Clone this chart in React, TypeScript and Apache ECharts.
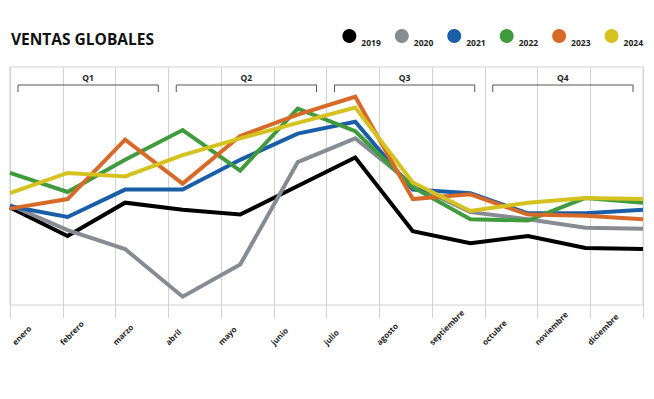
import React, { useEffect, useRef } from "react";
import * as echarts from "echarts";

const MONTHS = ["enero", "febrero", "marzo", "abril", "mayo", "junio", "julio", "agosto", "septiembre", "octubre", "noviembre", "diciembre"];
const QUARTERS = ["Q1", "Q2", "Q3", "Q4"];
const YEARS = ["2019", "2020", "2021", "2022", "2023", "2024"];

const V2019 = [41, 29, 43, 40, 38, 50, 62, 31, 26, 29, 24, 23.5];
const V2020 = [42, 31.5, 23.5, 3.5, 17, 60, 70, 50.5, 39, 36, 32.5, 32];
const V2021 = [41.5, 37, 48.5, 48.5, 61, 72, 77, 48.5, 47, 38.5, 38.5, 40];
const V2022 = [55.5, 47.5, 61, 73.5, 56.5, 82.5, 73, 49.5, 36, 35.5, 45, 43];
const V2023 = [40.5, 44.5, 69.5, 51, 71, 80, 87.5, 44.5, 46.5, 38, 37.5, 36];
const V2024 = [47, 55.5, 54, 63, 70, 76.5, 83, 51.5, 39.5, 43, 45, 44.5];

const SERIES_VALUES = [V2019, V2020, V2021, V2022, V2023, V2024];
const COLORS = ["#000000", "#878b92", "#1b5ea8", "#3f9b3b", "#d86a28", "#d5c21e"];

const FONT = "'Open Sans', Roboto, sans-serif";

export default function App() {
  const ref = useRef<HTMLDivElement>(null);
  useEffect(() => {
    if (!ref.current) return;
    const chart = echarts.init(ref.current, null, { renderer: "svg" });
    const quarterData = QUARTERS.map((q, i) => [i * 3, i * 3 + 2]);
    const monthData = MONTHS.map((m, i) => [i]);
    chart.setOption({
      animation: false,
      backgroundColor: "#ffffff",
      title: {
        text: "VENTAS GLOBALES",
        left: 6,
        top: 26,
        textStyle: { fontFamily: FONT, fontSize: 15.5, fontWeight: "bold", color: "#111111" },
      },
      legend: {
        data: YEARS,
        right: 6,
        top: 24,
        icon: "circle",
        itemWidth: 14,
        itemHeight: 14,
        itemGap: 14,
        formatter: "{t|{name}}",
        textStyle: {
          fontFamily: FONT,
          fontSize: 8.5,
          fontWeight: "bold",
          color: "#222222",
          rich: {
            t: { fontFamily: FONT, fontSize: 8.5, fontWeight: "bold", color: "#222222", padding: [13, 0, 0, 0] },
          },
        },
      },
      grid: {
        left: 10,
        right: 11,
        top: 67,
        bottom: 94,
        show: true,
        borderColor: "#d2d2d2",
        borderWidth: 1,
        containLabel: false,
      },
      xAxis: [
        {
          type: "category",
          data: MONTHS,
          boundaryGap: true,
          axisLine: { show: false },
          axisTick: { show: true, length: 13, interval: 0, lineStyle: { color: "#d2d2d2", width: 1 } },
          splitLine: { show: true, interval: 0, lineStyle: { color: "#d2d2d2", width: 1 } },
          axisLabel: { show: false },
        },
        {
          type: "category",
          data: MONTHS,
          boundaryGap: false,
          show: false,
        },
      ],
      yAxis: {
        type: "value",
        min: 0,
        max: 100,
        show: false,
        splitLine: { show: false },
      },
      series: [
        ...YEARS.map((y, i) => ({
          name: y,
          type: "line",
          xAxisIndex: 1,
          data: SERIES_VALUES[i],
          symbol: "none",
          color: COLORS[i],
          lineStyle: { width: 4, color: COLORS[i], join: "miter" },
        })),
        {
          type: "custom",
          xAxisIndex: 0,
          silent: true,
          data: quarterData,
          renderItem: (params: any, api: any) => {
            const s = api.coord([api.value(0), 0]);
            const e = api.coord([api.value(1), 0]);
            const bw = api.size([1, 0])[0];
            const cs = params.coordSys;
            const x1 = s[0] - bw / 2 + 8;
            const x2 = e[0] + bw / 2 - 10;
            const y = cs.y + 18;
            return {
              type: "group",
              children: [
                {
                  type: "polyline",
                  shape: { points: [[x1, y + 7], [x1, y], [x2, y], [x2, y + 7]] },
                  style: { stroke: "#555555", fill: null, lineWidth: 1 },
                },
                {
                  type: "text",
                  style: {
                    text: QUARTERS[params.dataIndex],
                    x: (x1 + x2) / 2,
                    y: y - 3,
                    align: "center",
                    verticalAlign: "bottom",
                    font: "bold 8.5px " + FONT,
                    fill: "#222222",
                  },
                },
              ],
            };
          },
        },
        {
          type: "custom",
          xAxisIndex: 0,
          silent: true,
          clip: false,
          data: monthData,
          renderItem: (params: any, api: any) => {
            const c = api.coord([api.value(0), 0]);
            const bw = api.size([1, 0])[0];
            const cs = params.coordSys;
            return {
              type: "text",
              x: c[0] - bw / 2 + (params.dataIndex === 0 ? 6 : 1),
              y: cs.y + cs.height + 41,
              rotation: Math.PI / 4,
              style: {
                text: MONTHS[params.dataIndex],
                x: 0,
                y: 0,
                align: "left",
                verticalAlign: "bottom",
                font: "bold 8px " + FONT,
                fill: "#222222",
              },
            };
          },
        },
      ],
    });
    return () => chart.dispose();
  }, []);
  return (
    <div
      ref={ref}
      style={{ position: "fixed", left: 0, top: 0, width: 654, height: 399, background: "#fff" }}
    />
  );
}
